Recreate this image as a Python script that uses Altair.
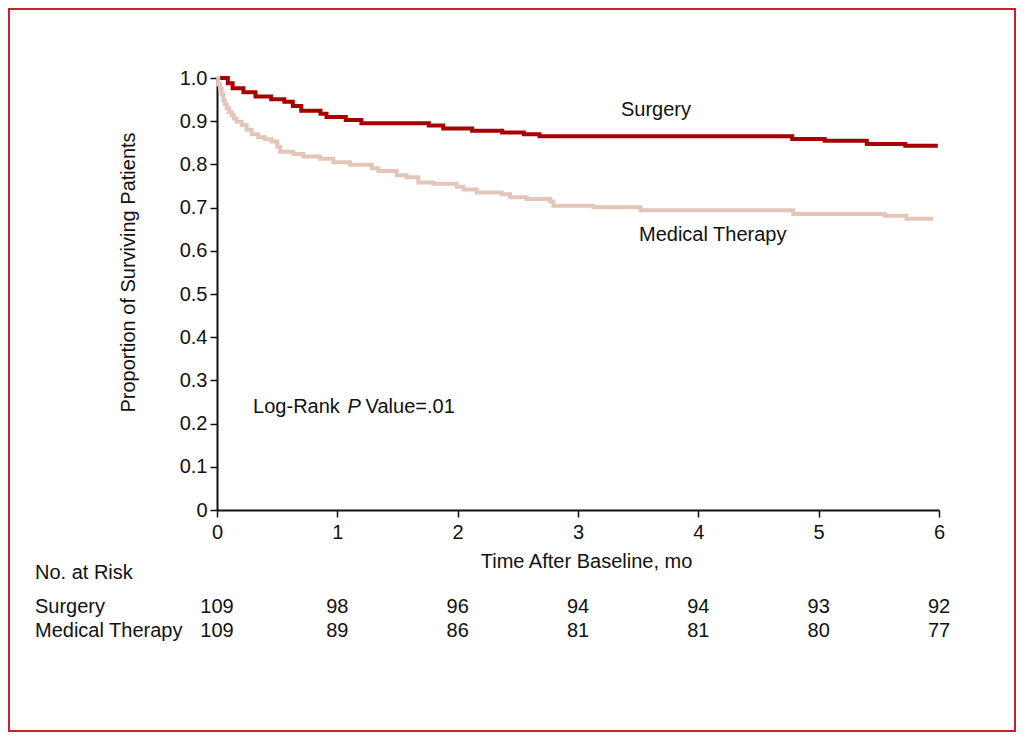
import altair as alt
import pandas as pd

# ---- data ----
surgery_t = [0, 0.09, 0.13, 0.22, 0.32, 0.45, 0.56, 0.63, 0.70, 0.86, 0.91, 1.07, 1.20,
             1.76, 1.88, 2.12, 2.37, 2.55, 2.68, 4.78, 5.05, 5.40, 5.72, 5.99]
surgery_s = [1.0, 0.988, 0.976, 0.967, 0.957, 0.951, 0.945, 0.935, 0.924, 0.917, 0.910, 0.903, 0.895,
             0.890, 0.883, 0.878, 0.874, 0.870, 0.865, 0.859, 0.855, 0.847, 0.843, 0.843]

medical_t = [0, 0.01, 0.025, 0.039, 0.053, 0.065, 0.08, 0.10, 0.122, 0.14, 0.163, 0.205, 0.247,
             0.288, 0.343, 0.399, 0.454, 0.501, 0.524, 0.634, 0.717, 0.856, 0.967, 1.105, 1.286,
             1.341, 1.493, 1.576, 1.673, 1.798, 1.992, 2.048, 2.158, 2.366, 2.435, 2.574, 2.767,
             2.795, 3.13, 3.52, 4.79, 5.55, 5.73, 5.95]
medical_s = [1.0, 0.985, 0.975, 0.962, 0.948, 0.94, 0.93, 0.921, 0.914, 0.906, 0.899, 0.891, 0.880,
             0.870, 0.863, 0.858, 0.853, 0.841, 0.829, 0.824, 0.818, 0.813, 0.805, 0.799, 0.791,
             0.785, 0.775, 0.770, 0.758, 0.755, 0.748, 0.742, 0.735, 0.731, 0.724, 0.720, 0.714,
             0.704, 0.701, 0.694, 0.685, 0.681, 0.674, 0.674]

risk_months = [0, 1, 2, 3, 4, 5, 6]
risk_surgery = [109, 98, 96, 94, 94, 93, 92]
risk_medical = [109, 89, 86, 81, 81, 80, 77]

groups = ["Surgery", "Medical Therapy"]
colors = ["#a60000", "#e3c6b9"]

FONT = "Liberation Sans"
FS = 20

curves = pd.DataFrame(
    [{"t": t, "s": s, "g": "Surgery", "o": i} for i, (t, s) in enumerate(zip(surgery_t, surgery_s))]
    + [{"t": t, "s": s, "g": "Medical Therapy", "o": i} for i, (t, s) in enumerate(zip(medical_t, medical_s))]
)

xscale = alt.Scale(domain=[0, 6], nice=False, zero=False)
yscale = alt.Scale(domain=[0, 1], nice=False)

base = alt.Chart(curves)

lines = base.mark_line(interpolate="step-after", strokeWidth=4, strokeCap="butt").encode(
    x=alt.X("t:Q", scale=xscale,
            axis=alt.Axis(values=risk_months, title="Time After Baseline, mo", format="d",
                          labelFlush=False,
                          titleX=369, titleY=51, titleBaseline="middle")),
    y=alt.Y("s:Q", scale=yscale,
            axis=alt.Axis(values=[i / 10 for i in range(11)],
                          labelExpr="datum.value == 0 ? '0' : format(datum.value, '.1f')",
                          labelFlush=False,
                          title="Proportion of Surviving Patients",
                          titleX=-89, titleY=194, titleBaseline="middle", titleAngle=-90,
                          titleAlign="center")),
    color=alt.Color("g:N", scale=alt.Scale(domain=groups, range=colors), legend=None),
    order="o:Q",
    detail="g:N",
)

labels_df = pd.DataFrame({
    "t": [3.357, 3.507],
    "s": [0.926, 0.637],
    "txt": ["Surgery", "Medical Therapy"],
})
curve_labels = alt.Chart(labels_df).mark_text(align="left", baseline="middle", font=FONT,
                                              fontSize=FS, color="#111").encode(
    x=alt.X("t:Q", scale=xscale), y=alt.Y("s:Q", scale=yscale), text="txt:N")

lr_df = pd.DataFrame({
    "t": [0.30, 1.085, 1.235],
    "s": [0.238, 0.238, 0.238],
    "txt": ["Log-Rank", "P", "Value=.01"],
    "st": ["normal", "italic", "normal"],
})
lr_normal = alt.Chart(lr_df).transform_filter("datum.st == 'normal'").mark_text(
    align="left", baseline="middle", font=FONT, fontSize=FS, color="#111").encode(
    x=alt.X("t:Q", scale=xscale), y=alt.Y("s:Q", scale=yscale), text="txt:N")
lr_italic = alt.Chart(lr_df).transform_filter("datum.st == 'italic'").mark_text(
    align="left", baseline="middle", font=FONT, fontSize=FS, fontStyle="italic", color="#111").encode(
    x=alt.X("t:Q", scale=xscale), y=alt.Y("s:Q", scale=yscale), text="txt:N")

risk_df = pd.DataFrame(
    [{"t": m, "n": n, "row": 529} for m, n in zip(risk_months, risk_surgery)]
    + [{"t": m, "n": n, "row": 553} for m, n in zip(risk_months, risk_medical)]
)
risk_s = alt.Chart(risk_df).transform_filter("datum.row == 529").mark_text(
    align="center", baseline="middle", font=FONT, fontSize=FS, color="#111").encode(
    x=alt.X("t:Q", scale=xscale), y=alt.value(529), text="n:Q")
risk_m = alt.Chart(risk_df).transform_filter("datum.row == 553").mark_text(
    align="center", baseline="middle", font=FONT, fontSize=FS, color="#111").encode(
    x=alt.X("t:Q", scale=xscale), y=alt.value(553), text="n:Q")

row_df = pd.DataFrame({"txt": ["No. at Risk", "Surgery", "Medical Therapy"], "yy": [495, 529, 553]})
row_labels = alt.Chart(row_df).mark_text(align="left", baseline="middle", font=FONT,
                                         fontSize=FS, color="#111").encode(
    x=alt.value(-182), y=alt.Y("yy:Q", scale=None), text="txt:N")

frame = alt.Chart(pd.DataFrame({"a": [0]})).mark_rect(
    fill="transparent", stroke="#c8202c", strokeWidth=2).encode(
    x=alt.value(-208), x2=alt.value(798), y=alt.value(-69), y2=alt.value(653))

chart = alt.layer(frame, lines, curve_labels, lr_normal, lr_italic, risk_s, risk_m, row_labels).properties(
    width=722, height=432,
    autosize=alt.AutoSizeParams(type="none"),
    padding={"left": 209, "top": 70, "right": 77, "bottom": 222},
    background="white",
).configure_view(stroke=None).configure_axis(
    grid=False,
    domainColor="#111", domainWidth=2,
    tickColor="#111", tickWidth=1.5, tickSize=7,
    labelFont=FONT, labelFontSize=FS, labelColor="#111", labelPadding=3,
    titleFont=FONT, titleFontSize=FS, titleColor="#111", titleFontWeight="normal",
).configure_axisX(labelPadding=5)

chart.save("out.html", embed_options={"renderer": "svg", "actions": False})
